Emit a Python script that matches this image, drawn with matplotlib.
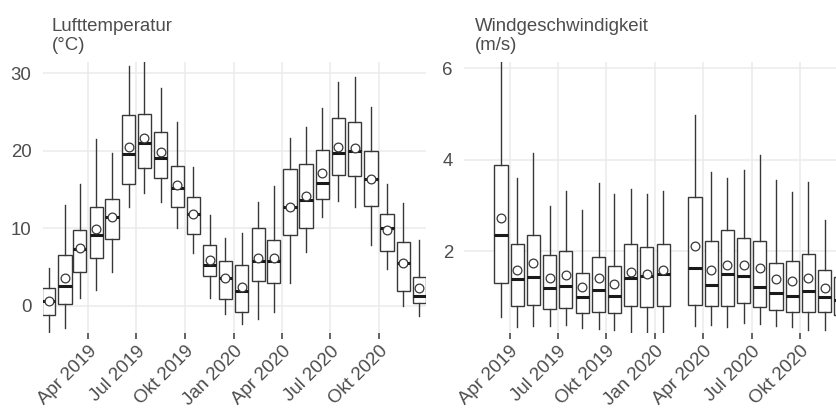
import matplotlib
matplotlib.use("Agg")
import matplotlib.pyplot as plt
import matplotlib.dates as mdates
import matplotlib.transforms as mtransforms
import numpy as np
import datetime as dt

# ---------------- data ----------------
temp_months = ["2019-01", "2019-02", "2019-03", "2019-04", "2019-05", "2019-06",
               "2019-07", "2019-08", "2019-09", "2019-10", "2019-11", "2019-12",
               "2020-01", "2020-02", "2020-03", "2020-04", "2020-05", "2020-06",
               "2020-07", "2020-08", "2020-09", "2020-10", "2020-11", "2020-12"]
temp_low = [-3.65, -2.9, 1.07, 2.0, 4.3, 12.7, 14.6, 13.4, 10.0, 6.8, 1.07, -1.07,
            -2.3, -1.7, -0.8, 3.0, 7.0, 11.5, 13.5, 12.8, 7.9, 4.7, 0.0, -1.25]
temp_q1 = [-1.16, 0.21, 4.34, 6.23, 8.63, 15.7, 17.8, 16.5, 12.8, 9.28, 3.82, 0.86,
           -0.82, 3.26, 3.0, 9.15, 10.0, 13.75, 16.9, 16.7, 12.9, 7.13, 1.9, 0.35]
temp_med = [0.64, 2.62, 7.3, 9.1, 11.5, 19.6, 21.0, 19.0, 15.2, 11.9, 5.28, 3.57,
            1.93, 5.8, 5.8, 12.76, 13.66, 15.9, 19.76, 20.0, 16.3, 10.0, 5.58, 1.33]
temp_q3 = [2.28, 6.57, 9.79, 12.8, 13.8, 24.6, 24.7, 22.4, 18.0, 14.0, 7.86, 5.84,
           5.28, 10.1, 8.46, 17.6, 18.26, 20.1, 24.2, 23.7, 20.0, 11.9, 8.2, 3.7]
temp_high = [4.85, 13.0, 15.7, 21.5, 19.7, 30.9, 33.0, 28.1, 23.75, 17.95, 11.7, 8.8,
             9.36, 13.4, 15.4, 21.7, 23.1, 25.5, 28.9, 29.5, 25.6, 15.7, 13.3, 8.5]
temp_mean = [0.64, 3.65, 7.43, 9.97, 11.5, 20.5, 21.6, 19.8, 15.6, 11.9, 5.93, 3.57,
             2.49, 6.23, 6.23, 12.76, 14.2, 17.1, 20.5, 20.3, 16.3, 9.8, 5.58, 2.28]

wind_months = ["2019-03", "2019-04", "2019-05", "2019-06", "2019-07", "2019-08",
               "2019-09", "2019-10", "2019-11", "2019-12", "2020-01",
               "2020-03", "2020-04", "2020-05", "2020-06", "2020-07", "2020-08",
               "2020-09", "2020-10", "2020-11", "2020-12"]
wind_low = [0.56, 0.36, 0.38, 0.38, 0.40, 0.33, 0.31, 0.29, 0.23, 0.20, 0.25,
            0.38, 0.40, 0.35, 0.44, 0.42, 0.38, 0.35, 0.29, 0.29, 0.28]
wind_q1 = [1.32, 0.81, 0.84, 0.74, 0.76, 0.65, 0.67, 0.65, 0.81, 0.79, 0.82,
           0.84, 0.80, 0.80, 0.87, 0.79, 0.73, 0.68, 0.68, 0.67, 0.62]
wind_med = [2.36, 1.40, 1.45, 1.20, 1.24, 1.00, 1.15, 1.03, 1.43, 1.47, 1.50,
            1.65, 1.26, 1.50, 1.47, 1.22, 1.09, 1.03, 1.14, 1.00, 0.94]
wind_q3 = [3.89, 2.16, 2.35, 1.93, 2.00, 1.54, 1.89, 1.69, 2.16, 2.09, 2.17,
           3.19, 2.22, 2.46, 2.29, 2.23, 1.75, 1.80, 1.94, 1.59, 1.45]
wind_high = [6.5, 3.60, 4.15, 3.00, 3.32, 2.91, 3.49, 3.25, 3.37, 3.25, 3.31,
             4.98, 3.73, 3.61, 3.78, 4.11, 3.55, 3.29, 3.51, 2.68, 2.5]
wind_mean = [2.74, 1.60, 1.75, 1.42, 1.49, 1.22, 1.42, 1.29, 1.56, 1.50, 1.60,
             2.11, 1.60, 1.71, 1.71, 1.65, 1.40, 1.36, 1.43, 1.20, 1.15]

tick_dates = ["2019-04-01", "2019-07-01", "2019-10-01", "2020-01-01",
              "2020-04-01", "2020-07-01", "2020-10-01"]
tick_labels = ["Apr 2019", "Jul 2019", "Okt 2019", "Jan 2020",
               "Apr 2020", "Jul 2020", "Okt 2020"]

titles = [("Lufttemperatur", "(°C)"), ("Windgeschwindigkeit", "(m/s)")]

# ---------------- style ----------------
plt.rcParams['font.family'] = ['Liberation Sans', 'DejaVu Sans']
TXT = "#4d4d4d"
LINE = "#383838"
GRID = "#ebebeb"
FS = 13.4

W, H = 837, 408
fig = plt.figure(figsize=(W / 100, H / 100), dpi=100)

def to_num(s):
    return mdates.date2num(dt.datetime.strptime(s, "%Y-%m-%d"))

def month_center(m):
    return to_num(m + "-16")

xmin = to_num("2019-01-05")
xmax = to_num("2020-12-29")

def draw_panel(ax, months, low, q1, med, q3, high, mean, ylim, yticks):
    stats = []
    for i in range(len(months)):
        stats.append(dict(whislo=low[i], q1=q1[i], med=med[i], q3=q3[i],
                          whishi=high[i], mean=mean[i], fliers=[]))
    pos = [month_center(m) for m in months]
    ax.bxp(stats, positions=pos, widths=25, showmeans=True, showcaps=False,
           showfliers=False, patch_artist=True, manage_ticks=False,
           boxprops=dict(facecolor="white", edgecolor=LINE, linewidth=1.0),
           whiskerprops=dict(color=LINE, linewidth=1.0),
           medianprops=dict(color="#1a1a1a", linewidth=2.2, solid_capstyle="butt"),
           meanprops=dict(marker="o", markerfacecolor="white",
                          markeredgecolor=LINE, markersize=6.3,
                          markeredgewidth=0.9))
    ax.set_xlim(xmin, xmax)
    ax.set_ylim(*ylim)
    ax.set_yticks(yticks)
    ax.set_yticklabels([str(t) for t in yticks])
    ax.set_xticks([to_num(d) for d in tick_dates])
    ax.set_xticklabels(tick_labels, rotation=45, ha="right", va="top",
                       rotation_mode="anchor")
    offset = mtransforms.ScaledTranslation(9 / 100, -9 / 100, fig.dpi_scale_trans)
    for lab in ax.get_xticklabels():
        lab.set_transform(lab.get_transform() + offset)
    ax.grid(True, color=GRID, linewidth=1.1)
    ax.set_axisbelow(True)
    for s in ax.spines.values():
        s.set_visible(False)
    ax.tick_params(axis="x", length=4, width=1.1, color=LINE,
                   labelsize=FS, pad=3, labelcolor=TXT)
    ax.tick_params(axis="y", length=0, labelsize=FS, pad=8, labelcolor=TXT)

bottom = 1 - 333 / H
height = (333 - 62.3) / H
width = 383.5 / W

ax1 = fig.add_axes([42.7 / W, bottom, width, height])
draw_panel(ax1, temp_months, temp_low, temp_q1, temp_med, temp_q3, temp_high,
           temp_mean, (-3.5, 31.4), [0, 10, 20, 30])

ax2 = fig.add_axes([464 / W, bottom, width, height])
draw_panel(ax2, wind_months, wind_low, wind_q1, wind_med, wind_q3, wind_high,
           wind_mean, (0.22, 6.13), [2, 4, 6])

for (l1, l2), x in zip(titles, [52, 475]):
    fig.text(x / W, 1 - 30.7 / H, l1, fontsize=FS, color=TXT, va="baseline", ha="left")
    fig.text(x / W, 1 - 50 / H, l2, fontsize=FS, color=TXT, va="baseline", ha="left")

fig.savefig("out.png", dpi=100)
